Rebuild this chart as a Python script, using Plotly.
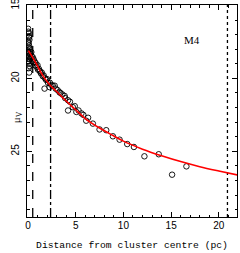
import plotly.graph_objects as go

# Observed surface brightness points (distance in pc, mu_V)
core_x = [0.02, 0.05, 0.08, 0.10, 0.12, 0.15, 0.04, 0.07, 0.11, 0.14, 0.18, 0.03, 0.06,
          0.09, 0.13, 0.16, 0.20, 0.05, 0.10, 0.15, 0.08, 0.12]
core_y = [16.6, 16.8, 16.9, 17.1, 17.2, 17.35, 17.5, 17.6, 17.75, 17.9, 18.0, 18.1, 18.2,
          18.3, 18.45, 18.55, 18.7, 18.85, 19.0, 19.15, 19.3, 19.6]
band_x = [0.25, 0.3, 0.35, 0.4, 0.45, 0.5, 0.55, 0.6, 0.7, 0.75, 0.8, 0.9, 1.0, 1.05, 1.15,
          1.25, 1.35, 1.45, 1.55, 1.65, 1.74, 1.8, 1.9, 2.0, 2.1, 2.26, 2.3, 2.45, 2.6, 2.8,
          2.9, 3.1, 3.3, 3.4, 3.6, 3.84, 3.9, 4.2, 4.2, 4.4, 4.7, 4.9, 5.07, 5.3, 5.6, 5.8,
          6.1, 6.3]
band_y = [18.3, 18.6, 18.2, 18.5, 18.8, 18.55, 18.9, 18.7, 18.85, 19.1, 18.95, 19.2, 19.1,
          19.4, 19.35, 19.5, 19.65, 19.6, 19.85, 19.8, 20.7, 20.0, 20.1, 20.05, 20.3, 20.6,
          20.3, 20.45, 20.5, 20.5, 20.7, 20.8, 20.94, 21.0, 21.1, 21.2, 21.35, 21.5, 22.2,
          21.6, 21.97, 21.9, 22.3, 22.2, 22.4, 22.5, 22.9, 22.7]
outer_x = [6.8, 7.5, 8.2, 8.9, 9.6, 10.4, 11.1, 12.2, 13.7, 15.1, 16.6]
outer_y = [23.1, 23.5, 23.55, 23.97, 24.2, 24.5, 24.7, 25.34, 25.2, 26.6, 26.03]

# Fitted profile (red curve)
fit_x = [0.05, 0.7, 1.2, 1.7, 2.3, 3.0, 4.0, 5.0, 6.0, 7.5, 9.0, 10.0, 12.0, 14.0, 16.0,
         18.0, 20.0, 22.5]
fit_y = [18.1, 18.8, 19.4, 19.95, 20.45, 20.9, 21.55, 22.15, 22.75, 23.4, 23.95, 24.3,
         24.85, 25.3, 25.7, 26.05, 26.35, 26.7]

# Vertical reference radii (pc)
core_radius = [0.5]
half_light_radius = [2.37]
tidal_radius = [20.9]

x_range = [-0.1, 21.9]
y_range = [29.5, 14.97]

pts_x = core_x + band_x + outer_x
pts_y = core_y + band_y + outer_y

fig = go.Figure()
for xs, dash in [(core_radius, "dash"), (half_light_radius, "dashdot"), (tidal_radius, "dot")]:
    fig.add_trace(go.Scatter(x=[xs[0], xs[0]], y=[y_range[0], y_range[1]], mode="lines",
                             line=dict(color="black", width=1.3, dash=dash),
                             showlegend=False, hoverinfo="skip"))

fig.add_trace(go.Scatter(x=pts_x, y=pts_y, mode="markers",
                         marker=dict(symbol="circle-open", size=5.5, color="black",
                                     line=dict(width=0.9, color="black")),
                         showlegend=False))
fig.add_trace(go.Scatter(x=fit_x, y=fit_y, mode="lines", line_shape="spline",
                         line=dict(color="red", width=1.6), showlegend=False))

axis_common = dict(showgrid=False, zeroline=False, showline=True, linecolor="black",
                   linewidth=1, mirror="allticks", ticks="inside", ticklen=5,
                   tickcolor="black", tickwidth=1, automargin=False,
                   tickfont=dict(family="Liberation Sans", size=10, color="black"))

fig.update_xaxes(range=x_range, tickvals=[0, 5, 10, 15, 20], ticktext=["0", "5", "10", "15", "20"],
                 ticklabelstandoff=-1,
                 minor=dict(ticks="inside", ticklen=2.5, dtick=1, tick0=0, tickcolor="black"),
                 title=dict(text="Distance from cluster centre (pc)", standoff=11,
                            font=dict(family="Liberation Mono", size=9.7, color="black")),
                 **axis_common)
fig.update_yaxes(range=y_range, tickvals=[15, 20, 25], ticktext=["15", "20", "25"],
                 tickangle=-90, ticklabelstandoff=3, ticklabeloverflow="allow",
                 minor=dict(ticks="inside", ticklen=2.5, dtick=1, tick0=15, tickcolor="black"),
                 **axis_common)

fig.add_annotation(text="μ<sub>V</sub>", xref="paper", yref="paper", x=-0.048, y=0.47,
                   xanchor="center", yanchor="middle", textangle=-90, showarrow=False,
                   font=dict(family="Liberation Serif", size=11, color="black"))
fig.add_annotation(text="M4", x=17.2, y=17.4, xref="x", yref="y", showarrow=False,
                   font=dict(family="Liberation Serif", size=11, color="black"))

fig.update_layout(width=240, height=253, margin=dict(l=27, r=3, t=5, b=36),
                  plot_bgcolor="white", paper_bgcolor="white")

fig.write_html("out.html", config={"displayModeBar": False},
               post_script="document.body.style.margin='0';document.body.style.overflow='hidden';")
